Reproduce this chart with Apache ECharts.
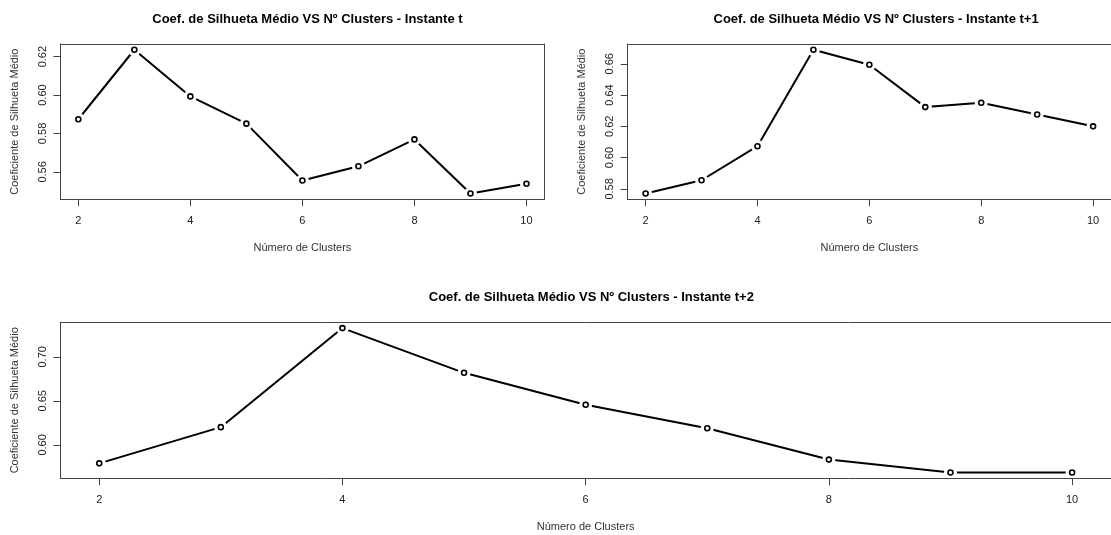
<!DOCTYPE html>
<html>
<head>
<meta charset="utf-8">
<script src="https://cdn.jsdelivr.net/npm/echarts@6/dist/echarts.min.js"></script>
<style>html,body{margin:0;padding:0;background:#fff}#c{width:1111px;height:535px}</style>
</head>
<body>
<div id="c"></div>
<script>
const clusters = [2, 3, 4, 5, 6, 7, 8, 9, 10];
const silT  = [0.5874, 0.6236, 0.5993, 0.5851, 0.5555, 0.5629, 0.5769, 0.5487, 0.5538];
const silT1 = [0.5770, 0.5855, 0.6073, 0.6690, 0.6594, 0.6323, 0.6351, 0.6276, 0.6200];
const silT2 = [0.5790, 0.6201, 0.7326, 0.6818, 0.6455, 0.6189, 0.5833, 0.5686, 0.5686];
const xTicks = [2, 4, 6, 8, 10];
const yTicksT  = [0.56, 0.58, 0.60, 0.62];
const yTicksT1 = [0.58, 0.60, 0.62, 0.64, 0.66];
const yTicksT2 = [0.60, 0.65, 0.70];
const titles = [
  'Coef. de Silhueta Médio VS Nº Clusters - Instante t',
  'Coef. de Silhueta Médio VS Nº Clusters - Instante t+1',
  'Coef. de Silhueta Médio VS Nº Clusters - Instante t+2'
];
const xTitle = 'Número de Clusters';
const yTitle = 'Coeficiente de Silhueta Médio';

const FONT = "'Liberation Sans', Arial, sans-serif";
const panels = [
  {grid: {left: 60.4, top: 44, width: 484, height: 155.3}, data: silT, yt: yTicksT, dec: 2},
  {grid: {left: 627.7, top: 44, width: 486.8, height: 155.3}, data: silT1, yt: yTicksT1, dec: 2},
  {grid: {left: 60.3, top: 322.3, width: 1052, height: 156}, data: silT2, yt: yTicksT2, dec: 2}
];

function rng(a) { // R-style 4% extension
  const mn = Math.min.apply(null, a), mx = Math.max.apply(null, a);
  const d = (mx - mn) * 0.04;
  return [mn - d, mx + d];
}

const grid = [], xAxis = [], yAxis = [], series = [], title = [];
const lineCol = '#000', boxCol = '#444', txtCol = '#222';
panels.forEach((p, i) => {
  grid.push(Object.assign({containLabel: false, show: false}, p.grid));
  const xr = rng(clusters), yr = rng(p.data);
  const cx = p.grid.left + p.grid.width / 2;
  title.push({
    text: titles[i], left: cx, textAlign: 'center', top: i === 2 ? 286 : 8,
    textStyle: {fontFamily: FONT, fontSize: 13, fontWeight: 'bold', color: '#000'}
  });
  xAxis.push({
    type: 'value', gridIndex: i, min: xr[0], max: xr[1], position: 'bottom', z: 10,
    name: xTitle, nameLocation: 'middle', nameGap: 43,
    nameTextStyle: {fontFamily: FONT, fontSize: 11, color: '#333'},
    axisLine: {show: true, lineStyle: {color: boxCol, width: 1}},
    axisTick: {show: true, length: 7, inside: false, customValues: xTicks, lineStyle: {color: boxCol}},
    axisLabel: {show: true, customValues: xTicks, margin: 16, fontFamily: FONT, fontSize: 11, color: txtCol},
    splitLine: {show: false}
  });
  xAxis.push({
    type: 'value', gridIndex: i, min: xr[0], max: xr[1], position: 'top', z: 10,
    axisLine: {show: true, lineStyle: {color: boxCol, width: 1}},
    axisTick: {show: false}, axisLabel: {show: false}, splitLine: {show: false}
  });
  yAxis.push({
    type: 'value', gridIndex: i, min: yr[0], max: yr[1], position: 'left', z: 10,
    name: yTitle, nameLocation: 'middle', nameGap: 40,
    nameTextStyle: {fontFamily: FONT, fontSize: 11, color: '#333'},
    axisLine: {show: true, lineStyle: {color: boxCol, width: 1}},
    axisTick: {show: true, length: 7, inside: false, customValues: p.yt, lineStyle: {color: boxCol}},
    axisLabel: {show: true, customValues: p.yt, rotate: 90, margin: 12, fontFamily: FONT, fontSize: 11, color: txtCol,
      formatter: v => v.toFixed(p.dec)},
    splitLine: {show: false}
  });
  yAxis.push({
    type: 'value', gridIndex: i, min: yr[0], max: yr[1], position: 'right', z: 10,
    axisLine: {show: true, lineStyle: {color: boxCol, width: 1}},
    axisTick: {show: false}, axisLabel: {show: false}, splitLine: {show: false}
  });
  const pts = clusters.map((c, k) => [c, p.data[k]]);
  series.push({
    type: 'line', xAxisIndex: i * 2, yAxisIndex: i * 2, data: pts, showSymbol: false, z: 2,
    lineStyle: {color: lineCol, width: 2}, silent: true
  });
  series.push({
    type: 'scatter', xAxisIndex: i * 2, yAxisIndex: i * 2, data: pts, symbol: 'circle', symbolSize: 13, z: 3,
    itemStyle: {color: '#fff', opacity: 1}, silent: true
  });
  series.push({
    type: 'scatter', xAxisIndex: i * 2, yAxisIndex: i * 2, data: pts, symbol: 'circle', symbolSize: 5, z: 4,
    itemStyle: {color: '#fff', borderColor: '#000', borderWidth: 1.6, opacity: 1}, silent: true
  });
});

const chart = echarts.init(document.getElementById('c'), null, {renderer: 'canvas'});
chart.setOption({animation: false, backgroundColor: '#fff', title, grid, xAxis, yAxis, series});
</script>
</body>
</html>
